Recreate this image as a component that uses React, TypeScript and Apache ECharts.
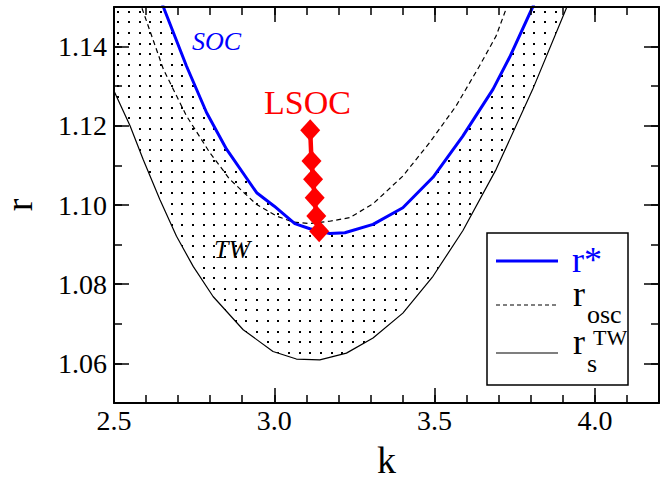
import React, { useEffect, useRef } from 'react';
import * as echarts from 'echarts';

// ---- data ----
const kMajor = [2.5, 3.0, 3.5, 4.0];
const rMajor = [1.06, 1.08, 1.1, 1.12, 1.14];

// r* (SOC boundary, blue)
const rStarK = [2.5, 2.6, 2.654, 2.726, 2.789, 2.851, 2.945, 3.0, 3.064, 3.111, 3.173, 3.22, 3.308, 3.401, 3.495, 3.588, 3.682, 3.734, 3.806, 3.9, 4.2];
const rStarR = [1.19, 1.163, 1.15, 1.1351, 1.1233, 1.1141, 1.1031, 1.0997, 1.0953, 1.094, 1.0928, 1.093, 1.0951, 1.0993, 1.107, 1.1174, 1.1292, 1.1373, 1.15, 1.168, 1.225];

// r_osc (dashed)
const rOscK = [2.55, 2.586, 2.654, 2.726, 2.799, 2.861, 2.945, 3.007, 3.059, 3.11, 3.173, 3.235, 3.308, 3.401, 3.484, 3.567, 3.64, 3.692, 3.723, 3.76];
const rOscR = [1.16, 1.15, 1.1343, 1.1225, 1.1132, 1.1065, 1.1001, 1.0972, 1.0957, 1.0953, 1.0959, 1.0968, 1.1003, 1.1073, 1.1157, 1.125, 1.1351, 1.1427, 1.1495, 1.157];

// r_s^TW (solid black)
const rTwK = [2.5, 2.55, 2.591, 2.643, 2.695, 2.747, 2.809, 2.903, 2.996, 3.069, 3.142, 3.225, 3.308, 3.401, 3.495, 3.588, 3.692, 3.806, 3.91, 4.0, 4.2];
const rTwR = [1.1288, 1.12, 1.1115, 1.1014, 1.0921, 1.0845, 1.0769, 1.0685, 1.063, 1.0611, 1.0609, 1.0626, 1.0664, 1.0727, 1.082, 1.0935, 1.109, 1.1292, 1.1495, 1.167, 1.205];

// LSOC (red diamonds)
const lsocK = [3.112, 3.116, 3.121, 3.126, 3.131, 3.14];
const lsocR = [1.1189, 1.1111, 1.1065, 1.1018, 1.0972, 1.0934];

const zip = (a: number[], b: number[]) => a.map((v, i) => [v, b[i]]);

const FONT = '"Liberation Serif", "Times New Roman", Times, serif';
const BLUE = '#0000ff';
const RED = '#ff0000';

function makeDotPattern() {
  const c = document.createElement('canvas');
  c.width = 32;
  c.height = 32;
  const ctx = c.getContext('2d')!;
  ctx.fillStyle = '#000';
  const pos = [0, 11, 21];
  for (const x of pos) for (const y of pos) ctx.fillRect(x, y, 2, 2);
  return { image: c, repeat: 'repeat', imageWidth: 32, imageHeight: 32 } as any;
}

const tickLine = { color: '#000', width: 1.5 };

function xAxes() {
  const base = { type: 'value', min: 2.5, max: 4.2, z: 10, splitLine: { show: false } };
  return [
    {
      ...base, position: 'bottom',
      axisLine: { show: true, lineStyle: { color: '#000', width: 2 } },
      axisTick: { show: true, inside: true, length: 15, customValues: kMajor, lineStyle: tickLine },
      axisLabel: { show: true, customValues: kMajor, formatter: (v: number) => v.toFixed(1), fontFamily: FONT, fontSize: 28, color: '#000', margin: 3 },
      name: 'k', nameLocation: 'middle', nameGap: 42,
      nameTextStyle: { fontFamily: FONT, fontSize: 38, color: '#000', lineHeight: 30 },
    },
    {
      ...base, position: 'bottom', interval: 0.1,
      axisLine: { show: false },
      axisTick: { show: true, inside: true, length: 8, lineStyle: tickLine },
      axisLabel: { show: false },
    },
    {
      ...base, position: 'top',
      axisLine: { show: true, lineStyle: { color: '#000', width: 2 } },
      axisTick: { show: true, inside: true, length: 15, customValues: kMajor, lineStyle: tickLine },
      axisLabel: { show: false },
    },
    {
      ...base, position: 'top', interval: 0.1,
      axisLine: { show: false },
      axisTick: { show: true, inside: true, length: 8, lineStyle: tickLine },
      axisLabel: { show: false },
    },
  ];
}

function yAxes() {
  const base = { type: 'value', min: 1.05, max: 1.15, z: 10, splitLine: { show: false } };
  return [
    {
      ...base, position: 'left',
      axisLine: { show: true, lineStyle: { color: '#000', width: 2 } },
      axisTick: { show: true, inside: true, length: 15, customValues: rMajor, lineStyle: tickLine },
      axisLabel: { show: true, customValues: rMajor, formatter: (v: number) => v.toFixed(2), fontFamily: FONT, fontSize: 28, color: '#000', margin: 7 },
      name: 'r', nameLocation: 'middle', nameGap: 80, nameRotate: 90,
      nameTextStyle: { fontFamily: FONT, fontSize: 38, color: '#000', lineHeight: 30 },
    },
    {
      ...base, position: 'left', interval: 0.01,
      axisLine: { show: false },
      axisTick: { show: true, inside: true, length: 8, lineStyle: tickLine },
      axisLabel: { show: false },
    },
    {
      ...base, position: 'right',
      axisLine: { show: true, lineStyle: { color: '#000', width: 2 } },
      axisTick: { show: true, inside: true, length: 15, customValues: rMajor, lineStyle: tickLine },
      axisLabel: { show: false },
    },
    {
      ...base, position: 'right', interval: 0.01,
      axisLine: { show: false },
      axisTick: { show: true, inside: true, length: 8, lineStyle: tickLine },
      axisLabel: { show: false },
    },
  ];
}

export default function App() {
  const ref = useRef<HTMLDivElement>(null);
  useEffect(() => {
    if (!ref.current) return;
    const chart = echarts.init(ref.current, undefined, { renderer: 'svg' });
    const txt = (text: string, x: number, y: number, size: number, color: string, italic = false) => ({
      type: 'text', x, y, z: 100,
      style: {
        text, fill: color, fontFamily: FONT, fontSize: size,
        fontStyle: italic ? 'italic' : 'normal',
        lineHeight: Math.round(size * 0.8),
        textAlign: 'left', textVerticalAlign: 'middle',
      },
    });
    const option: any = {
      animation: false,
      backgroundColor: '#fff',
      grid: { left: 114, right: 2, top: 7, bottom: 76, containLabel: false, outerBoundsMode: 'none' },
      xAxis: xAxes(),
      yAxis: yAxes(),
      series: [
        {
          name: 'SOC region', type: 'line', data: zip(rStarK, rStarR), symbol: 'none', silent: true,
          lineStyle: { width: 0, opacity: 0 },
          areaStyle: { color: makeDotPattern(), opacity: 1, origin: 'start' }, z: 1,
        },
        {
          name: 'below TW', type: 'line', data: zip(rTwK, rTwR), symbol: 'none', silent: true,
          lineStyle: { width: 0, opacity: 0 },
          areaStyle: { color: '#ffffff', opacity: 1, origin: 'start' }, z: 2,
        },
        {
          name: 'r_osc', type: 'line', data: zip(rOscK, rOscR), symbol: 'none',
          lineStyle: { color: '#000', width: 1.2, type: [5, 3.5] }, z: 3,
        },
        {
          name: 'r_s^TW', type: 'line', data: zip(rTwK, rTwR), symbol: 'none',
          lineStyle: { color: '#000', width: 1.2 }, z: 3,
        },
        {
          name: 'r*', type: 'line', data: zip(rStarK, rStarR), symbol: 'none',
          lineStyle: { color: BLUE, width: 3 }, z: 4,
        },
        {
          name: 'LSOC', type: 'line', data: zip(lsocK, lsocR), symbol: 'diamond', symbolSize: [20, 22],
          itemStyle: { color: RED }, lineStyle: { color: RED, width: 4.5 }, z: 5,
        },
      ],
      graphic: [
        txt('SOC', 192, 41, 26, BLUE, true),
        txt('TW', 214, 249, 26, '#000', true),
        txt('LSOC', 264, 102, 34, RED),
        {
          type: 'rect', z: 100,
          shape: { x: 487, y: 233, width: 141, height: 152 },
          style: { fill: '#fff', stroke: '#000', lineWidth: 1.5 },
        },
        { type: 'line', z: 101, shape: { x1: 496, y1: 261, x2: 558, y2: 261 }, style: { stroke: BLUE, lineWidth: 3 } },
        { type: 'line', z: 101, shape: { x1: 496, y1: 305, x2: 558, y2: 305 }, style: { stroke: '#000', lineWidth: 1.2, lineDash: [4, 3] } },
        { type: 'line', z: 101, shape: { x1: 496, y1: 353, x2: 558, y2: 353 }, style: { stroke: '#000', lineWidth: 1.2 } },
        txt('r*', 572, 260, 36, BLUE),
        txt('r', 573, 294, 36, '#000'),
        txt('osc', 587, 314, 26, '#000'),
        txt('r', 573, 342, 36, '#000'),
        txt('TW', 593, 337, 22, '#000'),
        txt('s', 587, 363, 26, '#000'),
      ],
    };
    chart.setOption(option);
    return () => chart.dispose();
  }, []);
  return <div ref={ref} style={{ position: 'fixed', left: 0, top: 0, width: 661, height: 479 }} />;
}
